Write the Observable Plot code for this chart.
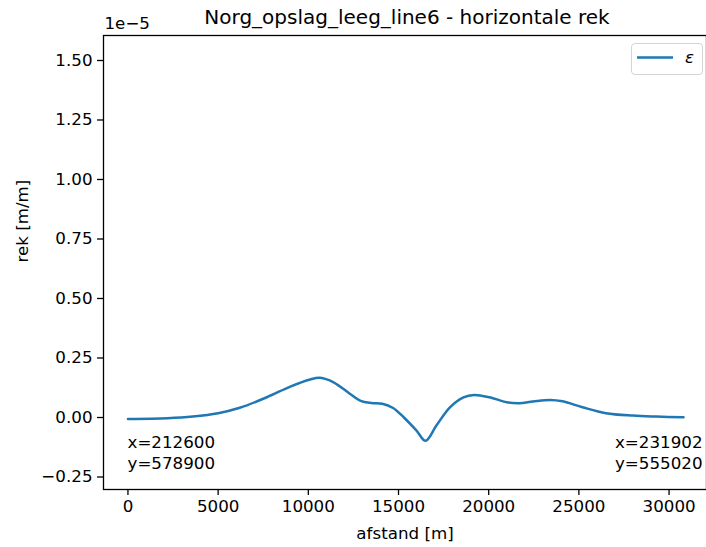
<!DOCTYPE html>
<html>
<head>
<meta charset="utf-8">
<script src="https://cdn.jsdelivr.net/npm/d3@7"></script>
<script src="https://cdn.jsdelivr.net/npm/@observablehq/plot@0.6"></script>
<style>
  html, body { margin: 0; padding: 0; background: #fff; }
  #wrap { position: relative; width: 706px; height: 547px; font-family: "DejaVu Sans", sans-serif; }
  #legend { position: absolute; left: 631px; top: 43px; width: 72px; height: 32px;
            border: 1px solid #d4d4d4; border-radius: 4px; background: rgba(255,255,255,0.8);
            box-sizing: border-box; }
  #legend svg { position: absolute; left: 0; top: 0; }
</style>
</head>
<body>
<div id="wrap"></div>
<script>
// Data (strain in units of 1e-5 m/m)
const distance = [0, 2200, 3600, 5000, 6200, 7700, 9000, 10100, 10650, 11400, 12300, 12900, 13500, 14100, 14700, 15300, 16000, 16500, 17100, 17850, 18600, 19200, 20050, 21000, 21700, 22450, 23400, 24100, 25200, 26500, 28000, 29300, 30800];
const strain   = [-0.006, -0.003, 0.004, 0.018, 0.041, 0.085, 0.130, 0.160, 0.167, 0.148, 0.100, 0.070, 0.061, 0.058, 0.040, 0.000, -0.055, -0.098, -0.034, 0.043, 0.085, 0.095, 0.085, 0.064, 0.060, 0.067, 0.074, 0.068, 0.043, 0.018, 0.008, 0.004, 0.001];
const xTicks = [0, 5000, 10000, 15000, 20000, 25000, 30000];
const yTicks = [-0.25, 0, 0.25, 0.5, 0.75, 1.0, 1.25, 1.5];
const titleText = "Norg_opslag_leeg_line6 - horizontale rek";
const offsetText = "1e\u22125";
const xLabel = "afstand [m]";
const yLabel = "rek [m/m]";
const seriesName = "\u03b5";
const startLabel = "x=212600\ny=578900";
const endLabel = "x=231902\ny=555020";

const rows = distance.map((d, i) => ({d, v: strain[i]}));
const fmtY = v => (v < 0 ? "\u2212" : "") + Math.abs(v).toFixed(2);
const fs = 16.7;
const color = "#1f77b4";

const chart = Plot.plot({
  width: 706,
  height: 547,
  marginLeft: 103,
  marginRight: 0,
  marginTop: 35,
  marginBottom: 58,
  style: {fontFamily: "DejaVu Sans", fontSize: fs + "px", color: "#000", background: "#fff"},
  x: {domain: [-1355, 32075]},
  y: {domain: [-0.3025, 1.605]},
  marks: [
    Plot.frame({stroke: "#000", strokeWidth: 1.3}),
    Plot.axisX({ticks: xTicks, tickFormat: d => String(d), tickSize: 6, tickPadding: 5, label: null, fontSize: fs, strokeWidth: 1.3}),
    Plot.axisY({ticks: yTicks, tickFormat: fmtY, tickSize: 6, tickPadding: 5, label: null, fontSize: fs, strokeWidth: 1.3}),
    Plot.line(rows, {x: "d", y: "v", stroke: color, strokeWidth: 2.5, curve: "catmull-rom"}),
    Plot.text([titleText], {frameAnchor: "top", dy: -18, dx: 2, fontSize: 20, lineAnchor: "middle"}),
    Plot.text([offsetText], {frameAnchor: "top-left", textAnchor: "start", dx: 1, dy: -12, fontSize: fs, lineAnchor: "middle"}),
    Plot.text([xLabel], {frameAnchor: "bottom", dy: 44, fontSize: fs, lineAnchor: "middle"}),
    Plot.text([yLabel], {frameAnchor: "left", dx: -81, rotate: -90, fontSize: fs, lineAnchor: "middle"}),
    Plot.text([startLabel], {frameAnchor: "bottom-left", textAnchor: "start", dx: 24, dy: -21, fontSize: fs, lineAnchor: "bottom", lineHeight: 1.2}),
    Plot.text([endLabel], {frameAnchor: "bottom-right", textAnchor: "end", dx: -4, dy: -21, fontSize: fs, lineAnchor: "bottom", lineHeight: 1.2})
  ]
});

const wrap = document.getElementById("wrap");
wrap.appendChild(chart);

const legend = document.createElement("div");
legend.id = "legend";
legend.innerHTML = `<svg width="72" height="32"><line x1="5" x2="41" y1="13.5" y2="13.5" stroke="${color}" stroke-width="2.5"/><text x="53" y="14" dominant-baseline="middle" font-family="DejaVu Sans" font-style="italic" font-size="${fs}">${seriesName}</text></svg>`;
wrap.appendChild(legend);
</script>
</body>
</html>
